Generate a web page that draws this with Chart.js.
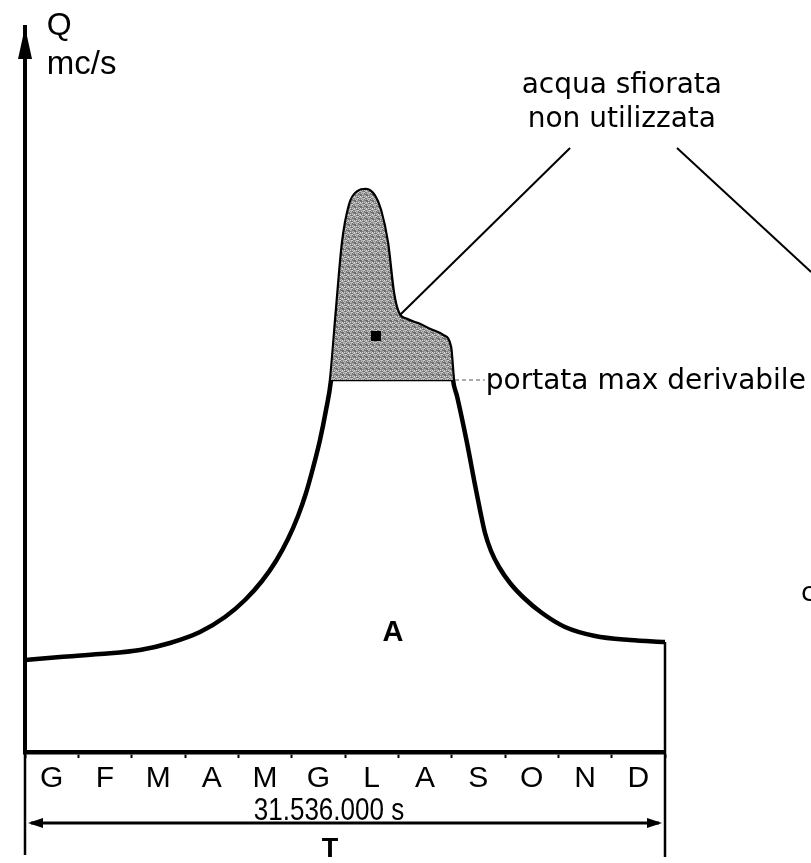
<!DOCTYPE html>
<html><head><meta charset="utf-8">
<script src="https://cdn.jsdelivr.net/npm/chart.js@4"></script>
<style>html,body{margin:0;padding:0;background:#fff}#wrap{width:811px;height:863px}</style>
</head><body><div id="wrap"><canvas id="c" width="811" height="863"></canvas></div>
<script>
// ---- data (months as x, discharge Q in arbitrary mc/s units) ----
const months = ['G','F','M','A','M','G','L','A','S','O','N','D'];
const flowX = [0,0.656,1.406,2.156,2.719,3.281,3.75,4.125,4.444,4.706,4.931,5.119,5.269,5.4,5.531,5.644,5.738,5.85,5.963,6.094,6.244,6.394,6.544,6.656,6.788,6.9,6.994,7.163,7.406,7.594,7.838,7.969,8.025,8.1,8.288,8.438,8.531,8.625,8.738,8.888,9.094,9.356,9.694,10.125,10.688,11.344,12];
const flowQ = [18.4,19.0,19.6,20.4,21.8,24.0,27.0,30.4,34.2,38.2,42.6,47.2,51.8,56.8,62.4,68.4,74.4,88.4,101.8,109.4,112.0,112.4,111.2,108.4,101.8,91.8,87.8,86.4,85.4,84.4,83.2,81.0,74.4,71.2,61.8,53.4,48.4,43.8,40.2,37.0,33.8,30.8,27.8,25.0,23.2,22.4,22.0];
const portataMax = 74.4;
const yMax = 145;

// annotation anchors (value space)
const leaderLeft = [[10.22,120.8],[7.03,87.4]];
const leaderRight = [[12.225,120.8],[14.74,96]];
const markerPt = [6.58,83.2];

const curve = flowX.map((x,i)=>({x, y: flowQ[i]}));
const excess = curve.filter(p => p.y >= portataMax);
const maxLine = [{x: excess[0].x, y: portataMax},{x: excess[excess.length-1].x, y: portataMax}];

// stipple pattern for the spilled water
function stipple(){
  const c = document.createElement('canvas'); c.width = 6; c.height = 6;
  const g = c.getContext('2d');
  const shades = [130,195,105,165,220,140,180,115];
  for (let i=0;i<6;i++) for (let j=0;j<6;j++){
    const v = shades[(i*3 + j*5 + (i*j)%3) % shades.length];
    g.fillStyle = `rgb(${v},${v},${v})`; g.fillRect(i,j,1,1);
  }
  return g.createPattern(c,'repeat');
}

const decor = {
  id: 'decor',
  afterDraw(chart){
    const {ctx, scales:{x, y}} = chart;
    const X = v => x.getPixelForValue(v), Y = v => y.getPixelForValue(v);
    ctx.save();
    ctx.strokeStyle = '#000'; ctx.fillStyle = '#000'; ctx.lineCap = 'butt';
    // y axis arrow head
    const ax = chart.chartArea.left, at = chart.chartArea.top;
    ctx.beginPath(); ctx.moveTo(ax, at); ctx.lineTo(ax-7, at+32); ctx.lineTo(ax+7, at+32); ctx.closePath(); ctx.fill();
    // right closing edge and dimension box
    ctx.lineWidth = 2.5;
    ctx.beginPath(); ctx.moveTo(X(12), Y(flowQ[flowQ.length-1])); ctx.lineTo(X(12), Y(-21)); ctx.stroke();
    ctx.beginPath(); ctx.moveTo(X(0), Y(0)); ctx.lineTo(X(0), Y(-20.6)); ctx.stroke();
    // dimension arrow
    const dy = Y(-14.2);
    ctx.lineWidth = 3;
    ctx.beginPath(); ctx.moveTo(X(0)+6, dy); ctx.lineTo(X(12)-6, dy); ctx.stroke();
    ctx.beginPath(); ctx.moveTo(X(0)+3, dy); ctx.lineTo(X(0)+18, dy-5); ctx.lineTo(X(0)+18, dy+5); ctx.closePath(); ctx.fill();
    ctx.beginPath(); ctx.moveTo(X(12)-3, dy); ctx.lineTo(X(12)-18, dy-5); ctx.lineTo(X(12)-18, dy+5); ctx.closePath(); ctx.fill();
    // leader lines
    ctx.lineWidth = 2;
    [leaderLeft, leaderRight].forEach(l => { ctx.beginPath(); ctx.moveTo(X(l[0][0]), Y(l[0][1])); ctx.lineTo(X(l[1][0]), Y(l[1][1])); ctx.stroke(); });
    ctx.fillRect(X(markerPt[0])-5, Y(markerPt[1])-5, 10, 10);
    // dashed leader to portata label
    ctx.strokeStyle = '#555'; ctx.lineWidth = 1.2; ctx.setLineDash([4,3]);
    ctx.beginPath(); ctx.moveTo(X(maxLine[1].x)+2, Y(portataMax)); ctx.lineTo(X(8.62), Y(portataMax)); ctx.stroke();
    ctx.setLineDash([]);
    // texts
    ctx.fillStyle = '#000'; ctx.textBaseline = 'alphabetic';
    ctx.textAlign = 'left';
    ctx.font = '32px "Liberation Sans", Arial, sans-serif';
    ctx.fillText('Q', X(0.41), Y(143.4));
    ctx.font = '33px "Liberation Sans", Arial, sans-serif';
    ctx.fillText('mc/s', X(0.41), Y(135.6));
    ctx.font = '28px "DejaVu Sans", sans-serif';
    ctx.textAlign = 'center';
    ctx.fillText('acqua sfiorata', X(11.19), Y(131.8));
    ctx.fillText('non utilizzata', X(11.19), Y(125));
    ctx.textAlign = 'left';
    ctx.fillText('portata max derivabile', X(8.64), Y(72.6));
    ctx.font = '26px "DejaVu Sans", sans-serif';
    ctx.fillText('c', X(14.55), Y(30.2));
    ctx.textAlign = 'center';
    ctx.font = 'bold 29px "Liberation Sans", Arial, sans-serif';
    ctx.fillText('A', X(6.9), Y(22.2));
    // condensed dimension label
    ctx.save();
    ctx.translate(X(5.7), Y(-13.6));
    ctx.scale(0.84, 1);
    ctx.font = '31px "Liberation Sans", Arial, sans-serif';
    ctx.fillText('31.536.000 s', 0, 0);
    ctx.restore();
    ctx.font = 'bold 27px "Liberation Sans", Arial, sans-serif';
    ctx.fillText('T', X(5.72), Y(-21));
    ctx.restore();
  }
};

new Chart(document.getElementById('c'), {
  type: 'scatter',
  data: {
    datasets: [
      { data: excess, showLine: true, borderWidth: 0, pointRadius: 0, cubicInterpolationMode: 'monotone',
        fill: {value: portataMax}, backgroundColor: stipple(), borderColor: 'rgba(0,0,0,0)' },
      { data: maxLine, showLine: true, borderColor: '#000', borderWidth: 2.5, pointRadius: 0 },
      { data: curve, showLine: true, borderColor: '#000', borderWidth: 4.5, pointRadius: 0, cubicInterpolationMode: 'monotone', fill: false }
    ]
  },
  options: {
    responsive: false, animation: false, devicePixelRatio: 1,
    layout: { padding: { left: 25, right: 146, top: 27, bottom: 0 } },
    plugins: { legend: { display: false }, tooltip: { enabled: false } },
    scales: {
      x: {
        type: 'linear', min: 0, max: 12,
        afterBuildTicks: s => { s.ticks = Array.from({length: 25}, (_, i) => ({ value: i/2 })); },
        afterFit: s => { s.height = 111; },
        ticks: { autoSkip: false, maxRotation: 0, minRotation: 0, padding: 3, color: '#000',
          font: { family: '"Liberation Sans", Arial, sans-serif', size: 30 },
          callback: v => Number.isInteger(v) ? '' : months[Math.floor(v)] },
        grid: { display: true, drawOnChartArea: false, drawTicks: true, tickLength: 6, tickWidth: 2,
          tickColor: c => Number.isInteger(c.tick.value) ? '#000' : 'rgba(0,0,0,0)' },
        border: { display: true, color: '#000', width: 4.5 }
      },
      y: {
        type: 'linear', min: 0, max: yMax,
        afterFit: s => { s.width = 0; },
        ticks: { display: false },
        grid: { display: false },
        border: { display: true, color: '#000', width: 4 }
      }
    }
  },
  plugins: [decor]
});
</script></body></html>
